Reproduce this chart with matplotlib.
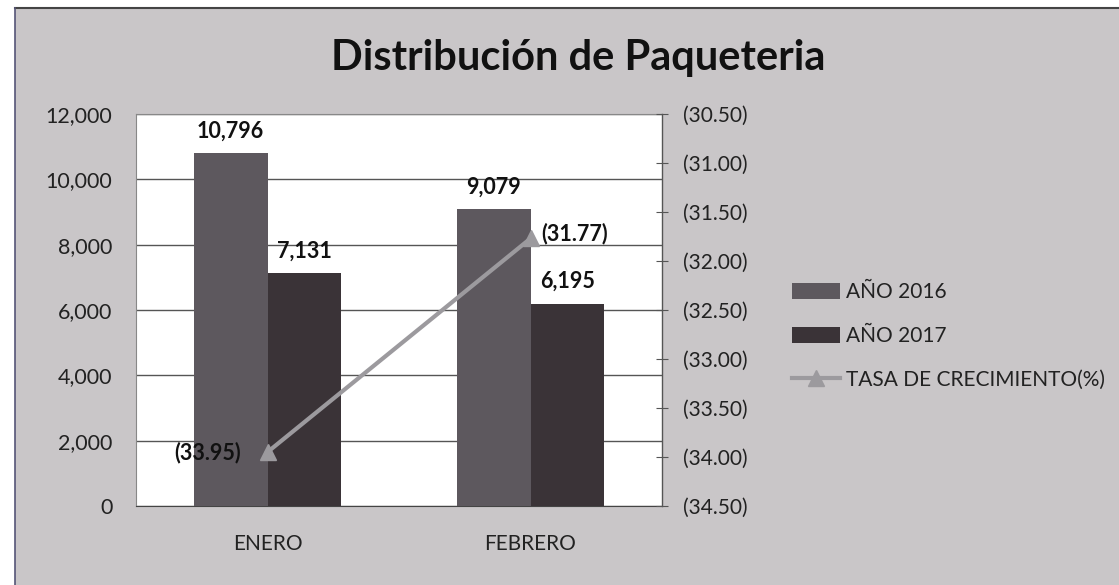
import matplotlib
matplotlib.use("Agg")
import matplotlib.pyplot as plt
from matplotlib.patches import Rectangle
from matplotlib.ticker import FuncFormatter
import numpy as np

categories = ["ENERO", "FEBRERO"]
anio_2016 = [10796, 9079]
anio_2017 = [7131, 6195]
tasa = [-33.95, -31.77]
left_ticks = [0, 2000, 4000, 6000, 8000, 10000, 12000]
right_ticks = [-34.5, -34.0, -33.5, -33.0, -32.5, -32.0, -31.5, -31.0, -30.5]

plt.rcParams['font.family'] = ['Lato', 'DejaVu Sans']

W, H = 1119, 585
fig = plt.figure(figsize=(W / 100, H / 100), dpi=100, facecolor='white')

# chart area background
bg = Rectangle((15 / W, 0), 1 - 15 / W, 1 - 8 / H, transform=fig.transFigure,
               facecolor='#c9c6c8', edgecolor='none', zorder=-10)
fig.patches.append(bg)
fig.add_artist(plt.Line2D([15 / W, 1], [1 - 8 / H, 1 - 8 / H], transform=fig.transFigure,
                          color='#444444', lw=1.5))
fig.add_artist(plt.Line2D([15 / W, 15 / W], [0, 1 - 8 / H], transform=fig.transFigure,
                          color='#555577', lw=1.2))

x0, x1, y0, y1 = 136, 662, 114, 506
ax = fig.add_axes([x0 / W, 1 - y1 / H, (x1 - x0) / W, (y1 - y0) / H])
ax.set_facecolor('white')

x = np.arange(len(categories))
bw = 0.28
b1 = ax.bar(x - bw / 2, anio_2016, bw, color='#5d585e', label='AÑO 2016', zorder=3)
b2 = ax.bar(x + bw / 2, anio_2017, bw, color='#3a3337', label='AÑO 2017', zorder=3)
ax.set_xlim(-0.5, 1.5)
ax.set_ylim(0, 12000)
ax.set_yticks(left_ticks)
ax.yaxis.set_major_formatter(FuncFormatter(lambda v, p: f"{int(v):,}"))
ax.set_xticks(x)
ax.set_xticklabels(categories, fontsize=15, color='#222222')
ax.tick_params(axis='x', length=0, pad=20)
ax.tick_params(axis='y', length=0, labelsize=15.5, colors='#222222', pad=17)
ax.grid(axis='y', color='#555555', lw=1.0, zorder=1)
for s in ['left', 'top']:
    ax.spines[s].set_color('#888888')
    ax.spines[s].set_linewidth(0.8)
ax.spines['bottom'].set_color('#444444')
ax.spines['right'].set_visible(False)

for rects, vals in [(b1, anio_2016), (b2, anio_2017)]:
    for r, v in zip(rects, vals):
        ax.text(r.get_x() + r.get_width() / 2, v + 350, f"{v:,}", ha='center', va='bottom',
                fontsize=15.5, fontweight='bold', color='#111111', zorder=5)

ax2 = ax.twinx()
ax2.set_ylim(-34.5, -30.5)
ax2.set_yticks(right_ticks)
ax2.yaxis.set_major_formatter(FuncFormatter(lambda v, p: f"({abs(v):.2f})"))
ax2.tick_params(axis='y', direction='inout', length=8, width=0.8, color='#555555',
                labelsize=15, labelcolor='#222222', pad=11)
for s in ['left', 'top', 'bottom']:
    ax2.spines[s].set_visible(False)
ax2.spines['right'].set_color('#555555')
ax2.spines['right'].set_linewidth(1.0)
ln, = ax2.plot(x, tasa, color='#9c9a9e', lw=3, marker='^', markersize=11,
               markerfacecolor='#9c9a9e', markeredgecolor='#9c9a9e',
               label='TASA DE CRECIMIENTO(%)', zorder=6)
ax2.text(x[0] - 0.1, tasa[0], f"({abs(tasa[0]):.2f})", ha='right', va='center',
         fontsize=15.5, fontweight='bold', color='#111111')
ax2.text(x[1] + 0.04, tasa[1] + 0.05, f"({abs(tasa[1]):.2f})", ha='left', va='center',
         fontsize=15.5, fontweight='bold', color='#111111')

fig.text(578 / W, 1 - 58 / H, "Distribución de Paqueteria", ha='center', va='center',
         fontsize=30, fontweight='bold', color='#111111')

handles = [b1, b2, ln]
fig.legend(handles, [h.get_label() for h in handles], loc='center left',
           bbox_to_anchor=(773 / W, 1 - 336 / H), frameon=False, fontsize=15,
           handlelength=2.3, handleheight=0.8, handletextpad=0.3, labelspacing=1.15,
           labelcolor='#222222')

fig.savefig("out.png", dpi=100, facecolor=fig.get_facecolor())
